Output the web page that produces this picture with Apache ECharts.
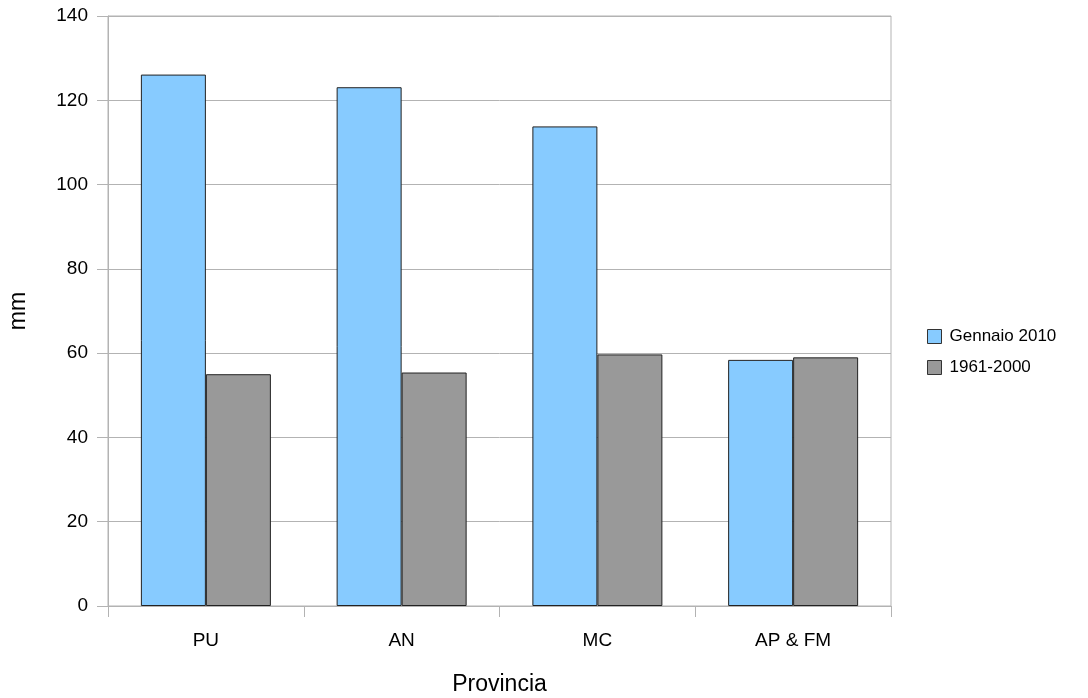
<!DOCTYPE html>
<html>
<head>
<meta charset="utf-8">
<script src="https://cdn.jsdelivr.net/npm/echarts@6/dist/echarts.min.js"></script>
<style>html,body{margin:0;padding:0;background:#fff;}#c{width:1088px;height:698px;}</style>
</head>
<body>
<div id="c"></div>
<script>
const categories = ['PU', 'AN', 'MC', 'AP & FM'];
const gennaio2010 = [126.1, 123.1, 113.8, 58.4];
const normale = [55.0, 55.4, 59.7, 59.0];
const yTicks = [0, 20, 40, 60, 80, 100, 120, 140];

const chart = echarts.init(document.getElementById('c'));
const font = 'Liberation Sans, Arial, sans-serif';
chart.setOption({
  backgroundColor: '#fff',
  animation: false,
  grid: { left: 108, right: 197, top: 16, bottom: 92, containLabel: false, outerBoundsMode: 'none',
          show: true, borderColor: '#b3b3b3', borderWidth: 1, backgroundColor: 'transparent' },
  legend: {
    orient: 'vertical', left: 927, top: 328, icon: 'rect', padding: 0,
    itemWidth: 14, itemHeight: 14, itemGap: 14,
    textStyle: { fontFamily: font, fontSize: 17, color: '#000', padding: [0,0,0,3] },
    data: [
      { name: 'Gennaio 2010', itemStyle: { color: '#87cbff', borderColor: '#333', borderWidth: 1 } },
      { name: '1961-2000', itemStyle: { color: '#999999', borderColor: '#333', borderWidth: 1 } }
    ]
  },
  xAxis: {
    type: 'category', data: categories,
    name: 'Provincia', nameLocation: 'middle', nameGap: 67,
    nameTextStyle: { fontFamily: font, fontSize: 23, color: '#000' },
    axisLine: { lineStyle: { color: '#b3b3b3' } },
    axisTick: { show: true, length: 11, lineStyle: { color: '#b3b3b3' } },
    axisLabel: { fontFamily: font, fontSize: 19, color: '#000', margin: 25 },
    splitLine: { show: false }
  },
  yAxis: {
    type: 'value', min: yTicks[0], max: yTicks[yTicks.length - 1], interval: 20,
    name: 'mm', nameLocation: 'middle', nameGap: 78,
    nameTextStyle: { fontFamily: font, fontSize: 23, color: '#000' },
    axisLine: { show: true, lineStyle: { color: '#b3b3b3' } },
    axisTick: { show: true, length: 11, lineStyle: { color: '#b3b3b3' } },
    axisLabel: { fontFamily: font, fontSize: 19, color: '#000', margin: 20 },
    splitLine: { show: true, lineStyle: { color: '#b3b3b3' } }
  },
  series: [
    { name: 'Gennaio 2010', type: 'bar', data: gennaio2010, barWidth: 65, barGap: '0%',
      itemStyle: { color: '#87cbff', borderColor: '#222', borderWidth: 1 } },
    { name: '1961-2000', type: 'bar', data: normale, barWidth: 65, barGap: '0%',
      itemStyle: { color: '#999999', borderColor: '#222', borderWidth: 1 } }
  ]
});
</script>
</body>
</html>
